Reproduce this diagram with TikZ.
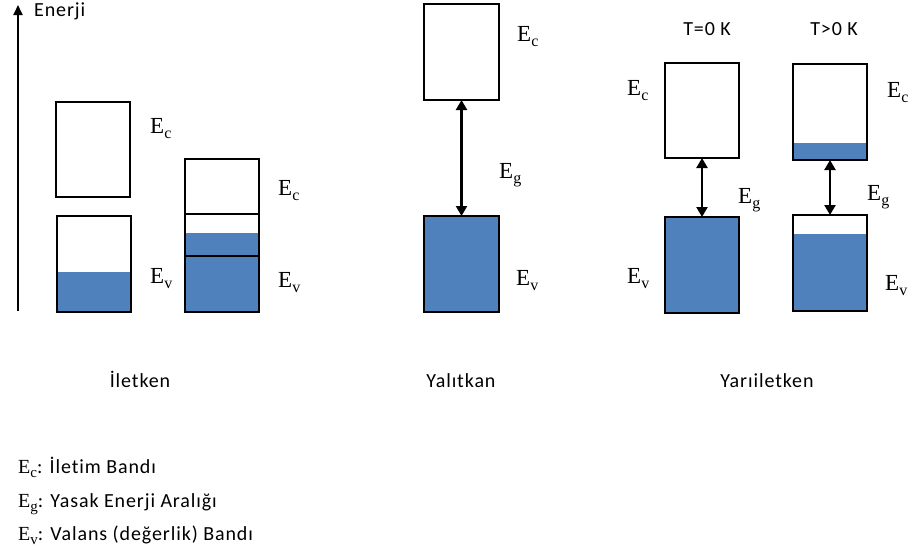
\documentclass[tikz,border=0pt]{standalone}
\usepackage{fontspec}
\setmainfont{Carlito}[LetterSpace=4.5, Ligatures={NoCommon}]
\newfontfamily\efont{Liberation Serif}
\usetikzlibrary{arrows.meta}
\definecolor{bandblue}{HTML}{4F81BD}
\tikzset{
  band/.style={draw=black, line width=2.5pt, inner sep=0pt, outer sep=0pt},
  gaparrow/.style={line width=2.2pt, {Triangle[width=11pt,length=10pt]}-{Triangle[width=11pt,length=10pt]}},
  axisarrow/.style={line width=1.8pt, -{Triangle[width=9pt,length=10pt]}},
  elab/.style={anchor=base west, inner sep=0pt, font=\efont\fontsize{23}{24}\selectfont},
  txt/.style={inner sep=0pt, font=\fontsize{20}{24}\selectfont},
  legend/.style={anchor=base west, inner sep=0pt, font=\fontsize{20}{24}\selectfont}
}
\newcommand{\esub}[1]{\raisebox{-0.22em}{\fontsize{16}{16}\selectfont #1}}
\newcommand{\lsub}[1]{\raisebox{-0.22em}{\fontsize{15}{16}\selectfont #1}}
\begin{document}
\begin{tikzpicture}[x=1pt,y=-1pt]
\useasboundingbox (0,0) rectangle (912,557);
% fills
\fill[bandblue] (57,272) rectangle (131,312);
\fill[bandblue] (185,233) rectangle (259,312);
\fill[bandblue] (424,216) rectangle (499,312);
\fill[bandblue] (665,217) rectangle (739,313);
\fill[bandblue] (793,143) rectangle (867,160);
\fill[bandblue] (793,234) rectangle (867,311);
% axis
\coordinate (ax0) at (18,311);
\coordinate (ax1) at (18,5);
\draw[axisarrow] (ax0) -- (ax1);
\node[txt, anchor=base west] (enerji) at (34,16) {Enerji};
% Iletken
\node[band, minimum width=74pt, minimum height=95pt] (ic1) at (93,149.5) {};
\node[band, minimum width=74pt, minimum height=96pt] (iv1) at (94,264) {};
\node[band, minimum width=74pt, minimum height=97pt] (ic2) at (222,207.5) {};
\node[band, minimum width=74pt, minimum height=98pt] (iv2) at (222,263) {};
\draw[line width=2.5pt] (iv2.north west) -- (iv2.north east);
\node[elab] (lic1) at (150,133) {E\esub{c}};
\node[elab] (liv1) at (150,283) {E\esub{v}};
\node[elab] (lic2) at (278,195) {E\esub{c}};
\node[elab] (liv2) at (278,287) {E\esub{v}};
% Yalitkan
\node[band, minimum width=75pt, minimum height=96pt] (yc) at (461.5,52) {};
\node[band, minimum width=75pt, minimum height=96pt] (yv) at (461.5,264) {};
\draw[gaparrow] (yc.south) -- (yv.north);
\node[elab] (lyc) at (517,41) {E\esub{c}};
\node[elab] (lyg) at (499,178) {E\esub{g}};
\node[elab] (lyv) at (516,285) {E\esub{v}};
% Yariiletken T=0
\node[txt, anchor=base] (t0) at (707,35) {T=0 K};
\node[band, minimum width=74pt, minimum height=95pt] (sc1) at (702,110.5) {};
\node[band, minimum width=74pt, minimum height=96pt] (sv1) at (702,265) {};
\draw[gaparrow] (sc1.south) -- (sv1.north);
\node[elab] (lsc1) at (627,95) {E\esub{c}};
\node[elab] (lsg1) at (738,203) {E\esub{g}};
\node[elab] (lsv1) at (627,283) {E\esub{v}};
% Yariiletken T>0
\node[txt, anchor=base] (t1) at (834,35) {T>0 K};
\node[band, minimum width=74pt, minimum height=96pt] (sc2) at (830,112) {};
\node[band, minimum width=74pt, minimum height=96pt] (sv2) at (830,263) {};
\draw[gaparrow] (sc2.south) -- (sv2.north);
\node[elab] (lsc2) at (887,97) {E\esub{c}};
\node[elab] (lsg2) at (867,200) {E\esub{g}};
\node[elab] (lsv2) at (885,290) {E\esub{v}};
% captions
\node[txt, anchor=base] (cap1) at (140,387) {İletken};
\node[txt, anchor=base] (cap2) at (461,387) {Yalıtkan};
\node[txt, anchor=base] (cap3) at (767,387) {Yarıiletken};
% legend
\node[legend] (lg1) at (18,473) {{\efont\fontsize{20}{22}\selectfont E\lsub{c}}: İletim Bandı};
\node[legend] (lg2) at (18,507) {{\efont\fontsize{20}{22}\selectfont E\lsub{g}}: Yasak Enerji Aralığı};
\node[legend] (lg3) at (18,540) {{\efont\fontsize{20}{22}\selectfont E\lsub{v}}: Valans (değerlik) Bandı};
\end{tikzpicture}
\end{document}
